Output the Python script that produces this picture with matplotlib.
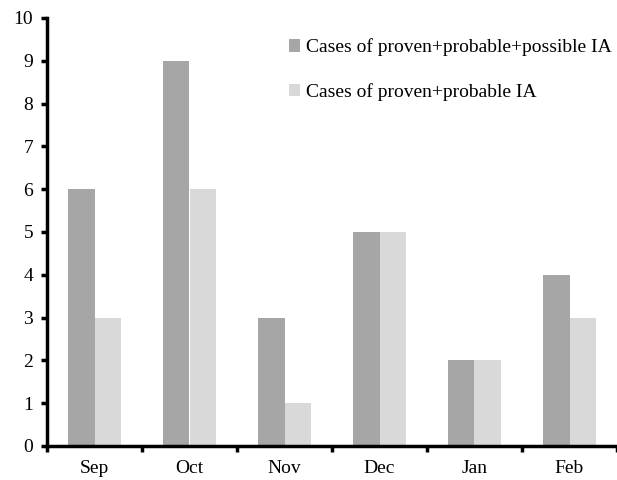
import matplotlib.pyplot as plt
import numpy as np

months = ["Sep", "Oct", "Nov", "Dec", "Jan", "Feb"]
all_cases = [6, 9, 3, 5, 2, 4]
proven_probable = [3, 6, 1, 5, 2, 3]
labels = ["Cases of proven+probable+possible IA", "Cases of proven+probable IA"]

plt.rcParams["font.family"] = ["Liberation Serif", "DejaVu Serif"]
plt.rcParams["font.size"] = 14

fig = plt.figure(figsize=(6.17, 4.8), dpi=100)
ax = fig.add_axes([47 / 617, 34 / 480, 570 / 617, 428 / 480])

x = np.arange(len(months))
w = 0.28
ax.bar(x - w / 2, all_cases, w, color="#a6a6a6", label=labels[0])
ax.bar(x + w / 2, proven_probable, w, color="#d9d9d9", label=labels[1])

ax.set_xlim(-0.5, 5.44)
ax.set_ylim(0, 10)
ax.set_yticks(range(0, 11))

ax.set_xticks(np.arange(-0.5, 6, 1))
ax.set_xticklabels([])
ax.set_xticks(x, minor=True)
ax.set_xticklabels(months, minor=True)
ax.tick_params(axis="x", which="minor", length=0, pad=10)
ax.tick_params(axis="x", which="major", length=4, width=2.5, direction="out")
ax.tick_params(axis="y", length=4, width=2.5, direction="out", pad=6)

for s in ["top", "right"]:
    ax.spines[s].set_visible(False)
for s in ["left", "bottom"]:
    ax.spines[s].set_linewidth(2.5)

ax.legend(loc="upper right", bbox_to_anchor=(1.005, 0.97), frameon=False,
          handlelength=0.6, handleheight=0.6, handletextpad=0.3,
          labelspacing=1.35, borderaxespad=0)

fig.savefig("out.png", dpi=100)
